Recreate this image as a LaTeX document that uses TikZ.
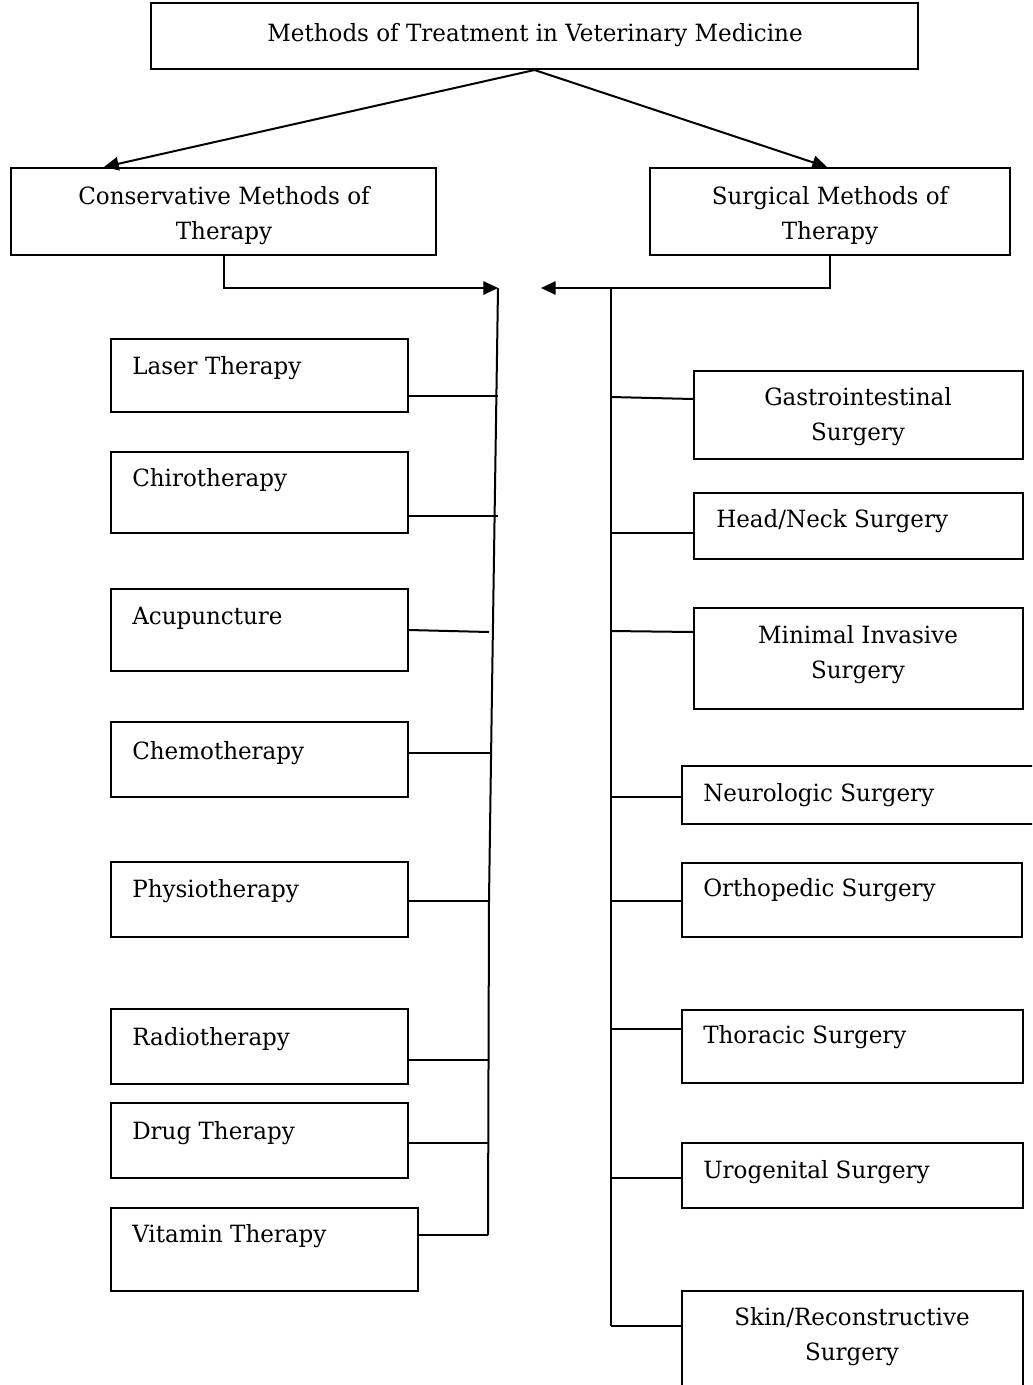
\documentclass[tikz,border=0pt]{standalone}
\usepackage{fontspec}
\setmainfont{DejaVu Serif}[FakeStretch=0.97]
\usetikzlibrary{arrows.meta,fit,calc}
\begin{document}
\begin{tikzpicture}[x=0.75pt,y=-0.75pt,
  box/.style={draw, line width=1.5pt, inner sep=0pt, rectangle},
  lbl/.style={font=\fontsize{17.8pt}{21pt}\selectfont, inner sep=0pt},
  conn/.style={line width=1.5pt},
  arr/.style={conn, -{Triangle[length=11pt,width=10pt]}}]
\useasboundingbox (0,0) rectangle (1032,1385);
\clip (0,0) rectangle (1032,1385);
% top
\node[box, fit={(151,3) (918,69)}] (top) {};
\node[lbl, anchor=base] (topT) at (535,41) {Methods of Treatment in Veterinary Medicine};
\node[box, fit={(11,168) (436,255)}] (cons) {};
\node[lbl, anchor=base] (consT1) at (224,204) {Conservative Methods of};
\node[lbl, anchor=base] (consT2) at (224,239) {Therapy};
\node[box, fit={(650,168) (1010,255)}] (surg) {};
\node[lbl, anchor=base] (surgT1) at (830,204) {Surgical Methods of};
\node[lbl, anchor=base] (surgT2) at (830,239) {Therapy};
\draw[arr] (top.south) -- ($(cons.north west)+(94,0)$);
\draw[arr] (top.south) -- ($(surg.north west)+(178,0)$);
% trunks
\coordinate (L0) at (498,288);
\coordinate (L1) at (492,690);
\coordinate (L2) at (489,900);
\coordinate (L3) at (488,1235);
\coordinate (R0) at (611,288);
\coordinate (R1) at (611,1326);
\draw[arr] (cons.south) -- (cons.south |- L0) -- (L0);
\draw[arr] (surg.south) -- (surg.south |- L0) -- (541,288);
\draw[conn] (L0) -- (L1) -- (L2) -- (L3);
\draw[conn] (R0) -- (R1);
% left boxes
\node[box, fit={(111,339) (408,412)}] (laser) {};
\node[lbl, anchor=base west] (laserT) at (132,374) {Laser Therapy};
\node[box, fit={(111,452) (408,533)}] (chiro) {};
\node[lbl, anchor=base west] (chiroT) at (132,486) {Chirotherapy};
\node[box, fit={(111,589) (408,671)}] (acu) {};
\node[lbl, anchor=base west] (acuT) at (132,624) {Acupuncture};
\node[box, fit={(111,722) (408,797)}] (chemo) {};
\node[lbl, anchor=base west] (chemoT) at (132,759) {Chemotherapy};
\node[box, fit={(111,862) (408,937)}] (physio) {};
\node[lbl, anchor=base west] (physioT) at (132,897) {Physiotherapy};
\node[box, fit={(111,1009) (408,1084)}] (radio) {};
\node[lbl, anchor=base west] (radioT) at (132,1045) {Radiotherapy};
\node[box, fit={(111,1103) (408,1178)}] (drug) {};
\node[lbl, anchor=base west] (drugT) at (132,1139) {Drug Therapy};
\node[box, fit={(111,1208) (418,1291)}] (vit) {};
\node[lbl, anchor=base west] (vitT) at (132,1242) {Vitamin Therapy};
\coordinate (la) at (498,396);
\coordinate (ch) at (498,516);
\coordinate (ac) at (489,632);
\coordinate (cm) at (490,753);
\coordinate (ph) at (488,901);
\coordinate (ra) at (488,1060);
\coordinate (dr) at (488,1143);
\draw[conn] (laser.east |- la) -- (la);
\draw[conn] (chiro.east |- ch) -- (ch);
\draw[conn] ($(acu.east |- ac)+(0,-2)$) -- (ac);
\draw[conn] (chemo.east |- cm) -- (cm);
\draw[conn] (physio.east |- ph) -- (ph);
\draw[conn] (radio.east |- ra) -- (ra);
\draw[conn] (drug.east |- dr) -- (dr);
\draw[conn] (vit.east |- L3) -- (L3);
% right boxes
\node[box, fit={(694,371) (1023,459)}] (gas) {};
\node[lbl, anchor=base] (gasT1) at (858,405) {Gastrointestinal};
\node[lbl, anchor=base] (gasT2) at (858,440) {Surgery};
\node[box, fit={(694,493) (1023,559)}] (head) {};
\node[lbl, anchor=base west] (headT) at (716,527) {Head/Neck Surgery};
\node[box, fit={(694,608) (1023,709)}] (mini) {};
\node[lbl, anchor=base] (miniT1) at (858,643) {Minimal Invasive};
\node[lbl, anchor=base] (miniT2) at (858,678) {Surgery};
\node[box, fit={(682,766) (1045,824)}] (neuro) {};
\node[lbl, anchor=base west] (neuroT) at (703,801) {Neurologic Surgery};
\node[box, fit={(682,863) (1022,937)}] (ortho) {};
\node[lbl, anchor=base west] (orthoT) at (703,896) {Orthopedic Surgery};
\node[box, fit={(682,1010) (1023,1083)}] (thor) {};
\node[lbl, anchor=base west] (thorT) at (703,1043) {Thoracic Surgery};
\node[box, fit={(682,1143) (1023,1208)}] (uro) {};
\node[lbl, anchor=base west] (uroT) at (703,1178) {Urogenital Surgery};
\node[box, fit={(682,1291) (1023,1420)}] (skin) {};
\node[lbl, anchor=base] (skinT1) at (852,1325) {Skin/Reconstructive};
\node[lbl, anchor=base] (skinT2) at (852,1360) {Surgery};
\coordinate (ga) at (611,397);
\coordinate (he) at (611,533);
\coordinate (mi) at (611,631);
\coordinate (ne) at (611,797);
\coordinate (or) at (611,901);
\coordinate (th) at (611,1029);
\coordinate (ur) at (611,1178);
\draw[conn] (ga) -- ($(gas.west |- ga)+(0,2)$);
\draw[conn] (he) -- (head.west |- he);
\draw[conn] (mi) -- ($(mini.west |- mi)+(0,1)$);
\draw[conn] (ne) -- (neuro.west |- ne);
\draw[conn] (or) -- (ortho.west |- or);
\draw[conn] (th) -- (thor.west |- th);
\draw[conn] (ur) -- (uro.west |- ur);
\draw[conn] (R1) -- (skin.west |- R1);
\end{tikzpicture}
\end{document}
